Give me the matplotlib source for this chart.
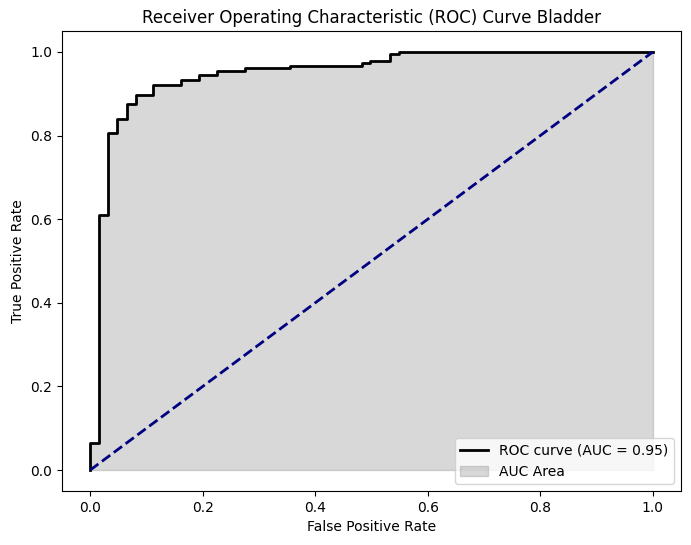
import numpy as np
import matplotlib
matplotlib.use("Agg")
import matplotlib.pyplot as plt

# ROC curve points (step curve)
fpr = [0.0, 0.0, 0.016, 0.016, 0.032, 0.032, 0.048, 0.048, 0.066, 0.066,
       0.082, 0.082, 0.112, 0.112, 0.161, 0.161, 0.194, 0.194, 0.226, 0.226,
       0.275, 0.275, 0.356, 0.356, 0.483, 0.483, 0.498, 0.498, 0.533, 0.533,
       0.549, 0.549, 1.0]
tpr = [0.0, 0.065, 0.065, 0.610, 0.610, 0.807, 0.807, 0.840, 0.840, 0.876,
       0.876, 0.898, 0.898, 0.921, 0.921, 0.933, 0.933, 0.944, 0.944, 0.955,
       0.955, 0.961, 0.961, 0.967, 0.967, 0.973, 0.973, 0.979, 0.979, 0.995,
       0.995, 1.0, 1.0]
roc_auc = 0.95

fig = plt.figure(figsize=(6.91, 5.45), dpi=100)
ax = fig.add_axes([62 / 691, (545 - 491) / 545, 619 / 691, 460 / 545])
ax.plot(fpr, tpr, color="black", lw=2, label="ROC curve (AUC = %0.2f)" % roc_auc)
ax.fill_between(fpr, tpr, color="gray", alpha=0.3, label="AUC Area")
ax.plot([0, 1], [0, 1], color="navy", lw=2, linestyle="--")
ax.set_xlabel("False Positive Rate")
ax.set_ylabel("True Positive Rate")
ax.set_title("Receiver Operating Characteristic (ROC) Curve Bladder")
ax.legend(loc="lower right")
fig.savefig("out.png", dpi=100)
